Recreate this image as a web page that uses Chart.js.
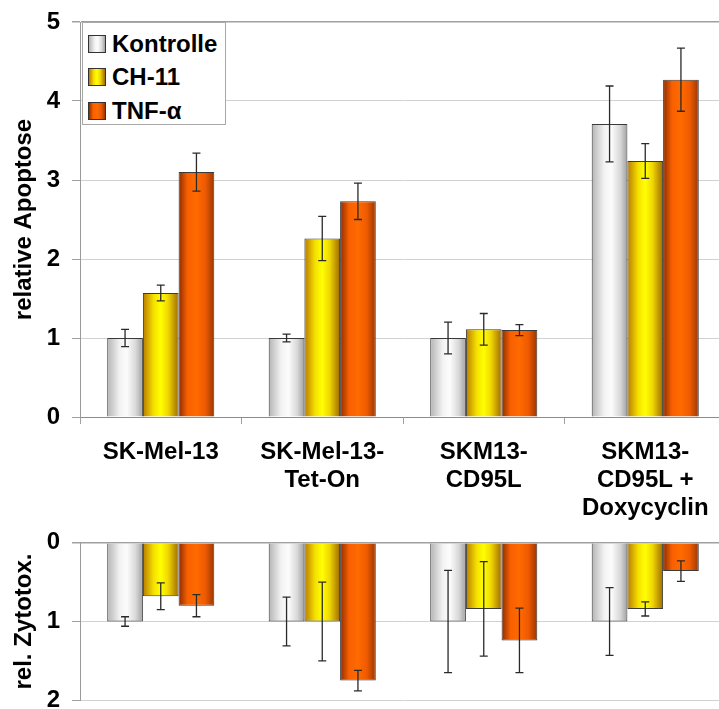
<!DOCTYPE html>
<html>
<head>
<meta charset="utf-8">
<script src="https://cdn.jsdelivr.net/npm/chart.js@4.4.0/dist/chart.umd.min.js"></script>
<style>
    html, body { margin: 0; padding: 0; background: #fff; width: 719px; height: 709px; overflow: hidden; }
    .box { position: absolute; left: 0; width: 726px; }
    #topBox { top: 0; height: 530px; }
    #bottomBox { top: 520px; height: 202px; }
    #legend {
        position: absolute; left: 82px; top: 22px; width: 144px; height: 103px;
        border: 1px solid #a8a8a8; background: #fff; box-sizing: border-box; padding-top: 4px;
        font: bold 24px 'Liberation Sans', Arial, sans-serif; color: #000;
    }
    #legend .item { display: flex; align-items: center; height: 33.5px; }
    #legend .sw { width: 16px; height: 16px; border: 1px solid #333; margin-left: 5px; margin-right: 6px; }
</style>
</head>
<body>
<div class="box" id="topBox"><canvas id="apoptose"></canvas></div>
<div class="box" id="bottomBox"><canvas id="zytotox"></canvas></div>
<div id="legend"></div>
<script>
const categories = [['SK-Mel-13'], ['SK-Mel-13-', 'Tet-On'], ['SKM13-', 'CD95L'], ['SKM13-', 'CD95L +', 'Doxycyclin']];
const seriesNames = ['Kontrolle', 'CH-11', 'TNF-α'];

// relative Apoptose (oben)
const apoKontrolle = [1.0, 1.0, 1.0, 3.71];
const apoCH11 = [1.57, 2.26, 1.11, 3.24];
const apoTNF = [3.10, 2.73, 1.10, 4.27];
const apoErrKontrolle = [0.11, 0.05, 0.20, 0.48];
const apoErrCH11 = [0.10, 0.28, 0.20, 0.22];
const apoErrTNF = [0.24, 0.23, 0.07, 0.40];
const apoMax = 5;

// rel. Zytotox. (unten, nach unten aufgetragen)
const zytoKontrolle = [1.0, 1.0, 1.0, 1.0];
const zytoCH11 = [0.68, 1.0, 0.84, 0.84];
const zytoTNF = [0.80, 1.75, 1.24, 0.36];
const zytoErrKontrolle = [0.06, 0.31, 0.65, 0.43];
const zytoErrCH11 = [0.17, 0.50, 0.60, 0.09];
const zytoErrTNF = [0.14, 0.13, 0.41, 0.13];
const zytoMax = 2;

const FONT = "'Liberation Sans', Arial, sans-serif";

const stopsKontrolle = [[0, '#b4b4b4'], [0.35, '#f2f2f2'], [0.55, '#fcfcfc'], [0.8, '#d8d8d8'], [1, '#a0a0a0']];
const stopsCH11 = [[0, '#b87a00'], [0.3, '#f5e000'], [0.5, '#ffff00'], [0.7, '#f0d800'], [1, '#a06a00']];
const stopsTNF = [[0, '#8c2c00'], [0.25, '#f86000'], [0.5, '#ff6a00'], [0.75, '#ee5a00'], [1, '#9a3600']];
const allStops = [stopsKontrolle, stopsCH11, stopsTNF];

// Zylinder-Verlauf pro Balken
const gradientFill = {
    id: 'gradientFill',
    beforeDatasetDraw(chart, args) {
        const ctx = chart.ctx;
        const stops = chart.data.datasets[args.index].stops;
        args.meta.data.forEach(bar => {
            const g = ctx.createLinearGradient(bar.x - bar.width / 2, 0, bar.x + bar.width / 2, 0);
            stops.forEach(s => g.addColorStop(s[0], s[1]));
            bar.options = Object.assign({}, bar.options, { backgroundColor: g });
        });
    }
};

// Fehlerbalken
const errorBars = {
    id: 'errorBars',
    afterDatasetsDraw(chart) {
        const ctx = chart.ctx;
        const y = chart.scales.y;
        ctx.save();
        ctx.strokeStyle = '#2a2a2a';
        ctx.lineWidth = 1.3;
        chart.data.datasets.forEach((ds, i) => {
            chart.getDatasetMeta(i).data.forEach((bar, j) => {
                const v = ds.data[j], e = ds.errors[j];
                const y1 = y.getPixelForValue(v + e);
                const y2 = y.getPixelForValue(v - e);
                ctx.beginPath();
                ctx.moveTo(bar.x, y1); ctx.lineTo(bar.x, y2);
                ctx.moveTo(bar.x - 4, y1); ctx.lineTo(bar.x + 4, y1);
                ctx.moveTo(bar.x - 4, y2); ctx.lineTo(bar.x + 4, y2);
                ctx.stroke();
            });
        });
        ctx.restore();
    }
};

function makeDatasets(values, errors) {
    return seriesNames.map((name, i) => ({
        label: name,
        data: values[i],
        errors: errors[i],
        stops: allStops[i],
        backgroundColor: '#cccccc',
        borderColor: '#3a3a3a',
        borderWidth: 1,
        barPercentage: 1.0,
        categoryPercentage: 0.663,
    }));
}

function makeOptions(max, reverse, title, showX, padding) {
    const edge = reverse ? 0 : max;
    return {
        responsive: true,
        maintainAspectRatio: false,
        animation: false,
        layout: { padding: padding },
        plugins: { legend: { display: false }, tooltip: { enabled: false } },
        scales: {
            x: {
                display: showX,
                ticks: { color: '#000', font: { family: FONT, size: 24, weight: 'bold', lineHeight: 1.17 }, padding: 14, maxRotation: 0, autoSkip: false },
                grid: { offset: true, drawOnChartArea: false, tickLength: 7, tickColor: '#a0a0a0' },
                border: { color: '#8c8c8c', width: 1 },
                afterFit: s => { if (showX) s.height = 113; }
            },
            y: {
                min: 0,
                max: max,
                reverse: reverse,
                ticks: { stepSize: 1, color: '#000', font: { family: FONT, size: 24, weight: 'bold', lineHeight: 0.8 }, padding: 12 },
                grid: {
                    color: c => (c.tick.value === edge) ? '#a0a0a0' : '#d2d2d2',
                    lineWidth: c => (c.tick.value === edge) ? 1.5 : 1,
                    tickColor: '#a0a0a0',
                    tickLength: 8
                },
                border: { color: '#9a9a9a', width: 1 },
                title: { display: true, text: title, color: '#000', font: { family: FONT, size: 24, weight: 'bold' }, padding: { top: 10, bottom: 0 } },
                afterFit: s => { s.width = 80; }
            }
        }
    };
}

const graficoApoptose = new Chart(document.getElementById('apoptose').getContext('2d'), {
    type: 'bar',
    data: {
        labels: categories,
        datasets: makeDatasets([apoKontrolle, apoCH11, apoTNF], [apoErrKontrolle, apoErrCH11, apoErrTNF])
    },
    options: makeOptions(apoMax, false, 'relative Apoptose', true, { top: 22, left: 0, right: 0, bottom: 0 }),
    plugins: [gradientFill, errorBars]
});

const graficoZytotox = new Chart(document.getElementById('zytotox').getContext('2d'), {
    type: 'bar',
    data: {
        labels: categories,
        datasets: makeDatasets([zytoKontrolle, zytoCH11, zytoTNF], [zytoErrKontrolle, zytoErrCH11, zytoErrTNF])
    },
    options: makeOptions(zytoMax, true, 'rel. Zytotox.', false, { top: 22.7, left: 0, right: 0, bottom: 21.7 }),
    plugins: [gradientFill, errorBars]
});

// Legende im Diagramm oben links
const legend = document.getElementById('legend');
seriesNames.forEach((name, i) => {
    const grad = allStops[i].map(s => s[1] + ' ' + (s[0] * 100) + '%').join(', ');
    const item = document.createElement('div');
    item.className = 'item';
    item.innerHTML = '<span class="sw" style="background: linear-gradient(to right, ' + grad + ')"></span><span>' + name + '</span>';
    legend.appendChild(item);
});
</script>
</body>
</html>
